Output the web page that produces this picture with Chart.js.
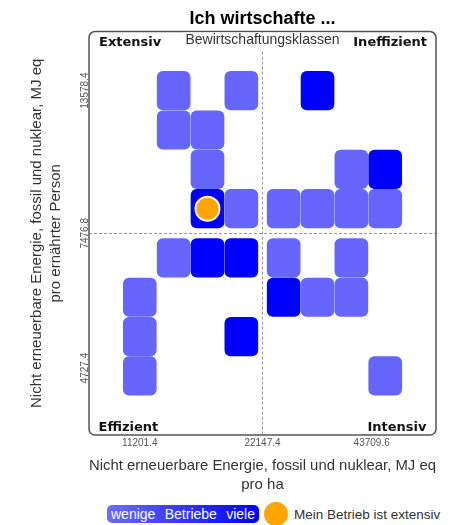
<!DOCTYPE html>
<html>
<head>
<meta charset="utf-8">
<script src="https://cdn.jsdelivr.net/npm/chart.js@4/dist/chart.umd.min.js"></script>
<style>
  html, body { margin: 0; padding: 0; background: #fff; }
  #wrap { position: relative; width: 455px; height: 525px; overflow: hidden; }
  #legend { position: absolute; left: 107px; top: 502px; height: 24px; display: flex; align-items: center; font-family: "Liberation Sans", Arial, sans-serif; }
  .scale-bar { width: 152px; height: 18px; border-radius: 5px; background: linear-gradient(to right, #6b6bff, #0000f0); color: #fff; font-size: 14px; display: flex; justify-content: space-between; align-items: center; padding: 0 4px; box-sizing: border-box; }
  .dot { width: 24px; height: 24px; border-radius: 50%; background: #ffa500; margin-left: 5px; }
  .dot-label { margin-left: 6px; font-size: 13.5px; color: #333; }
</style>
</head>
<body>
<div id="wrap">
  <canvas id="chart" width="455" height="500"></canvas>
  <div id="legend"></div>
</div>
<script>
const titleText = "Ich wirtschafte ...";
const xTitle = ["Nicht erneuerbare Energie, fossil und nuklear, MJ eq", "pro ha"];
const yTitle = ["Nicht erneuerbare Energie, fossil und nuklear, MJ eq", "pro ernährter Person"];
const classTitle = "Bewirtschaftungsklassen";
const quadrantLabels = ["Extensiv", "Ineffizient", "Effizient", "Intensiv"];

// Tick-Beschriftungen und ihre Lage in Klassen-Einheiten
const xTickLabels = ["11201.4", "22147.4", "43709.6"];
const xTickPos = [0, 3.625, 6.85];
const yTickLabels = ["4727.4", "7476.8", "13578.4"];
const yTickPos = [0.2, 3.625, 7.25];

// Klassen: Spalte (links -> rechts), Zeile (unten -> oben), Anzahl Betriebe (1 = wenige, 2 = viele)
const cellCol   = [1, 3, 5, 1, 2, 2, 6, 7, 2, 3, 4, 5, 6, 7, 1, 2, 3, 4, 6, 0, 4, 5, 6, 0, 3, 0, 7];
const cellRow   = [7, 7, 7, 6, 6, 5, 5, 5, 4, 4, 4, 4, 4, 4, 3, 3, 3, 3, 3, 2, 2, 2, 2, 1, 1, 0, 0];
const cellCount = [1, 1, 2, 1, 1, 1, 1, 2, 2, 1, 1, 1, 1, 1, 1, 2, 2, 1, 1, 1, 2, 1, 1, 1, 2, 1, 1];

const myFarmCol = [2];
const myFarmRow = [4];

const legendScale = ["wenige", "Betriebe", "viele"];
const legendFarm = "Mein Betrieb ist extensiv";

const LIGHT = "#6666ff";
const DARK = "#0000ff";
const ORANGE = "#ffa500";
const MID = 3.625;   // Trennlinie zwischen den Quadranten
const GAP = 0.25;    // Abstand zwischen den beiden Haelften
const pos = i => i + (i >= 4 ? GAP : 0);

const cellData = cellCol.map((c, i) => {
  const r = pos(cellRow[i]);
  return { x: pos(c), y: [r - 0.49, r + 0.49] };
});
const cellColors = cellCount.map(n => (n > 1 ? DARK : LIGHT));
const farmData = myFarmCol.map((c, i) => ({ x: pos(c), y: pos(myFarmRow[i]) }));

const midGrid = ctx => (ctx.tick && Math.abs(ctx.tick.value - MID) < 1e-6 ? "#9a9a9a" : "rgba(0,0,0,0)");

const quadrantPlugin = {
  id: "quadrants",
  beforeDatasetsDraw(chart) {
    const { ctx, chartArea: a } = chart;
    ctx.save();
    ctx.strokeStyle = "#555";
    ctx.lineWidth = 1.5;
    ctx.beginPath();
    ctx.roundRect(a.left, a.top, a.right - a.left, a.bottom - a.top, 6);
    ctx.stroke();
    ctx.restore();
  },
  afterDatasetsDraw(chart) {
    const { ctx, chartArea: a } = chart;
    const midX = chart.scales.x.getPixelForValue(MID);
    ctx.save();
    ctx.font = "14px 'Liberation Sans', Arial, sans-serif";
    const w = ctx.measureText(classTitle).width;
    ctx.fillStyle = "#fff";
    ctx.fillRect(midX - w / 2 - 3, a.top + 1, w + 6, 18);
    ctx.fillStyle = "#333";
    ctx.textAlign = "center";
    ctx.textBaseline = "alphabetic";
    ctx.fillText(classTitle, midX, a.top + 12.5);

    ctx.font = "bold 13px 'DejaVu Sans', sans-serif";
    ctx.fillStyle = "#111";
    ctx.textAlign = "left";
    ctx.fillText(quadrantLabels[0], a.left + 10, a.top + 14);
    ctx.fillText(quadrantLabels[2], a.left + 9.5, a.bottom - 4);
    ctx.textAlign = "right";
    ctx.fillText(quadrantLabels[1], a.right - 9, a.top + 14);
    ctx.fillText(quadrantLabels[3], a.right - 9.5, a.bottom - 4);
    ctx.restore();
  }
};

const chart = new Chart(document.getElementById("chart"), {
  type: "bar",
  data: {
    datasets: [
      {
        type: "scatter",
        label: legendFarm,
        data: farmData,
        backgroundColor: ORANGE,
        borderColor: "#fffaf0",
        borderWidth: 2,
        pointRadius: 12,
        order: 0
      },
      {
        label: "Betriebe",
        data: cellData,
        backgroundColor: cellColors,
        borderWidth: 0,
        borderRadius: 6,
        borderSkipped: false,
        barThickness: 33,
        order: 1
      }
    ]
  },
  options: {
    responsive: false,
    animation: false,
    events: [],
    layout: { padding: { left: 0, right: 19, top: 0, bottom: 0 } },
    plugins: {
      legend: { display: false },
      tooltip: { enabled: false },
      title: {
        display: true,
        text: titleText,
        fullSize: false,
        color: "#000",
        font: { family: "'Liberation Sans', Arial, sans-serif", size: 18, weight: "bold" },
        padding: { top: 8, bottom: 2 }
      }
    },
    scales: {
      x: {
        type: "linear",
        min: -1.5,
        max: 8.75,
        offset: false,
        afterBuildTicks: scale => { scale.ticks = xTickPos.map(v => ({ value: v })); },
        afterFit: scale => { scale.height = 65; },
        grid: { offset: false, drawTicks: false, color: midGrid, lineWidth: 1 },
        border: { display: false, dash: [3, 2] },
        ticks: {
          autoSkip: false,
          maxRotation: 0,
          padding: 2,
          color: "#555",
          font: { family: "'Liberation Sans', Arial, sans-serif", size: 10 },
          callback: (v, i) => xTickLabels[i]
        },
        title: {
          display: true,
          text: xTitle,
          color: "#333",
          font: { family: "'Liberation Sans', Arial, sans-serif", size: 15, lineHeight: 1.27 },
          padding: { top: 0, bottom: 6 }
        }
      },
      y: {
        type: "linear",
        min: -1.5,
        max: 8.75,
        afterBuildTicks: scale => { scale.ticks = yTickPos.map(v => ({ value: v })); },
        afterFit: scale => { scale.width = 89; },
        grid: { drawTicks: false, color: midGrid, lineWidth: 1 },
        border: { display: false, dash: [3, 2] },
        ticks: {
          autoSkip: false,
          minRotation: 90,
          maxRotation: 90,
          crossAlign: "center",
          padding: -14,
          color: "#555",
          font: { family: "'Liberation Sans', Arial, sans-serif", size: 10 },
          callback: (v, i) => yTickLabels[i]
        },
        title: {
          display: true,
          text: yTitle,
          color: "#333",
          font: { family: "'Liberation Sans', Arial, sans-serif", size: 15, lineHeight: 1.27 },
          padding: { top: 27.5, bottom: 0 }
        }
      }
    }
  },
  plugins: [quadrantPlugin]
});

// Legende unter dem Diagramm
const legend = document.getElementById("legend");
const bar = document.createElement("div");
bar.className = "scale-bar";
legendScale.forEach(t => {
  const s = document.createElement("span");
  s.textContent = t;
  bar.appendChild(s);
});
const dot = document.createElement("div");
dot.className = "dot";
const dotLabel = document.createElement("span");
dotLabel.className = "dot-label";
dotLabel.textContent = legendFarm;
legend.append(bar, dot, dotLabel);
</script>
</body>
</html>
